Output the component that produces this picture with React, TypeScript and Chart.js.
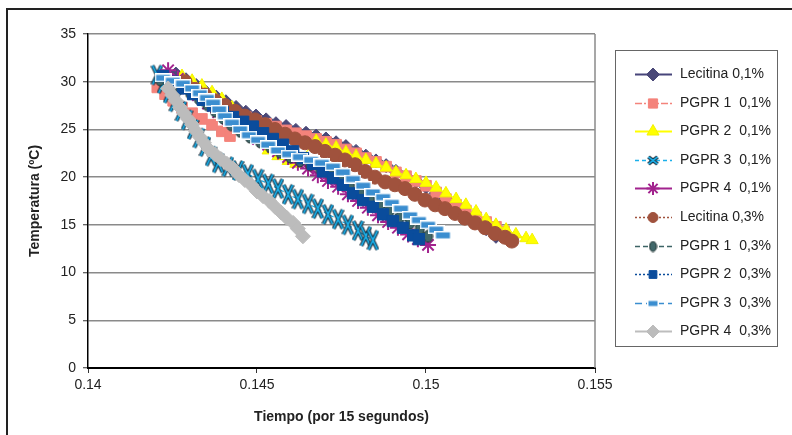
import React, { useEffect, useRef } from 'react';
import { Chart, registerables } from 'chart.js';
import { drawPoint } from 'chart.js/helpers';

Chart.register(...registerables);

type Pt = [number, number];

const seriesLabels = [
  'Lecitina 0,1%',
  'PGPR 1  0,1%',
  'PGPR 2  0,1%',
  'PGPR 3  0,1%',
  'PGPR 4  0,1%',
  'Lecitina 0,3%',
  'PGPR 1  0,3%',
  'PGPR 2  0,3%',
  'PGPR 3  0,3%',
  'PGPR 4  0,3%',
];

const xTicks = [0.14, 0.145, 0.15, 0.155];
const yTicks = [0, 5, 10, 15, 20, 25, 30, 35];
const xTitle = 'Tiempo (por 15 segundos)';
const yTitle = 'Temperatura (ºC)';

const lecitina01: Pt[] = [
  [0.1426, 30.8], [0.1429, 30.2], [0.1432, 29.6], [0.14349, 28.9], [0.14379, 28.4], [0.14408, 27.9],
  [0.14438, 27.3], [0.14467, 26.8], [0.14497, 26.4], [0.14527, 26.0], [0.14556, 25.6], [0.14586, 25.3],
  [0.14615, 24.9], [0.14645, 24.6], [0.14675, 24.3], [0.14704, 24.0], [0.14734, 23.6], [0.14763, 23.2],
  [0.14793, 22.7], [0.14822, 22.2], [0.14852, 21.7], [0.14882, 21.2], [0.14911, 20.6], [0.14941, 20.1],
  [0.1497, 19.6], [0.15, 19.0], [0.1503, 18.3], [0.15059, 17.7], [0.15089, 17.1], [0.15118, 16.1],
  [0.15148, 15.3], [0.15178, 14.6], [0.15207, 13.8],
];

const pgpr1_01: Pt[] = [
  [0.14205, 29.4], [0.14228, 28.7], [0.14252, 28.0], [0.14278, 27.3], [0.14308, 26.7], [0.14337, 26.1],
  [0.14367, 25.5], [0.14396, 24.8], [0.1442, 24.3],
  [0.14467, 26.3], [0.14497, 25.9], [0.14527, 25.6], [0.14556, 25.3], [0.14586, 24.9], [0.14615, 24.6],
  [0.14645, 24.3], [0.14675, 24.0], [0.14704, 23.7], [0.14734, 23.4], [0.14763, 22.9], [0.14793, 22.5],
  [0.14822, 22.0], [0.14852, 21.6], [0.14882, 21.1], [0.14911, 20.5], [0.14941, 20.1], [0.1497, 19.6],
  [0.15, 19.1], [0.1503, 18.4], [0.15059, 17.7], [0.15089, 17.1], [0.15118, 16.5], [0.15148, 15.8],
  [0.15178, 15.3], [0.15207, 14.8], [0.15231, 14.3],
];

const pgpr2_01: Pt[] = [
  [0.14278, 30.6], [0.14308, 30.1], [0.14337, 29.6], [0.14367, 28.9], [0.14396, 28.2], [0.14426, 27.3],
  [0.14456, 26.4], [0.14485, 25.3], [0.14515, 24.2], [0.14533, 22.8], [0.14562, 22.2], [0.14592, 21.7],
  [0.14615, 21.4],
  [0.14675, 23.8], [0.14704, 23.4], [0.14734, 23.1], [0.14763, 22.6], [0.14793, 22.2], [0.14822, 21.8],
  [0.14852, 21.4], [0.14882, 21.0], [0.14911, 20.5], [0.14941, 20.2], [0.1497, 19.8], [0.15, 19.4],
  [0.1503, 18.9], [0.15059, 18.3], [0.15089, 17.7], [0.15118, 17.1], [0.15148, 16.4], [0.15178, 15.6],
  [0.15207, 15.0], [0.15237, 14.5], [0.15266, 14.0], [0.15296, 13.6], [0.15314, 13.4],
];

const pgpr3_01: Pt[] = [
  [0.14204, 30.7], [0.14222, 29.8], [0.1424, 28.8], [0.14257, 27.9], [0.14275, 26.9], [0.14293, 26.0],
  [0.14311, 25.0], [0.14328, 24.1], [0.14346, 23.2], [0.14364, 22.2], [0.14385, 21.5], [0.14414, 21.1],
  [0.14444, 20.7], [0.14473, 20.3], [0.14503, 19.8], [0.14533, 19.3], [0.14562, 18.8], [0.14592, 18.2],
  [0.14621, 17.7], [0.14651, 17.2], [0.1468, 16.7], [0.1471, 16.1], [0.1474, 15.6], [0.14769, 15.0],
  [0.14799, 14.4], [0.14822, 13.8], [0.14843, 13.4],
];

const pgpr4_01: Pt[] = [
  [0.14237, 31.2], [0.14266, 30.3], [0.14296, 29.3], [0.14325, 28.6], [0.14355, 27.7], [0.14385, 26.8],
  [0.14414, 26.1], [0.14444, 25.4], [0.14473, 24.6], [0.14503, 24.0], [0.14533, 23.4], [0.14562, 22.7],
  [0.14592, 22.1], [0.14621, 21.5], [0.14651, 20.9], [0.1468, 20.2], [0.1471, 19.6], [0.1474, 19.0],
  [0.14769, 18.2], [0.14799, 17.5], [0.14828, 16.8], [0.14858, 16.0], [0.14888, 15.3], [0.14917, 14.7],
  [0.14947, 14.0], [0.14976, 13.5], [0.15006, 12.9],
];

const lecitina03: Pt[] = [
  [0.14287, 30.0], [0.14317, 29.2], [0.14346, 28.6], [0.14376, 28.0], [0.14405, 27.5], [0.14435, 26.9],
  [0.14464, 26.4], [0.14494, 26.0], [0.14524, 25.5], [0.14553, 25.0], [0.14583, 24.5], [0.14612, 24.0],
  [0.14642, 23.6], [0.14672, 23.2], [0.14701, 22.7], [0.14731, 22.3], [0.1476, 21.8], [0.1479, 21.3],
  [0.1482, 20.6], [0.14849, 20.0], [0.14879, 19.5], [0.14908, 19.2], [0.14938, 18.8], [0.14967, 18.2],
  [0.14997, 17.6], [0.15027, 17.1], [0.15056, 16.7], [0.15086, 16.2], [0.15115, 15.7], [0.15145, 15.2],
  [0.15175, 14.7], [0.15204, 14.1], [0.15234, 13.7], [0.15254, 13.3],
];

const pgpr1_03: Pt[] = [
  [0.14213, 30.2], [0.14243, 29.8], [0.14272, 29.3], [0.14302, 28.8], [0.14328, 28.2], [0.14352, 27.6],
  [0.14376, 26.9], [0.14399, 26.2], [0.14423, 25.5], [0.1445, 24.8], [0.14479, 24.2], [0.14509, 23.7],
  [0.14538, 23.2], [0.14568, 22.6], [0.14598, 22.1], [0.14627, 21.7], [0.14657, 21.3], [0.14686, 20.9],
  [0.14716, 20.3], [0.14746, 19.7], [0.14775, 19.1], [0.14805, 18.3], [0.14834, 17.7], [0.14864, 17.1],
  [0.14893, 16.5], [0.14923, 15.8], [0.14953, 15.2], [0.14982, 14.6], [0.15006, 13.8],
];

const pgpr2_03: Pt[] = [
  [0.14222, 30.6], [0.14251, 30.0], [0.14281, 29.3], [0.14311, 28.7], [0.1434, 28.1], [0.1437, 27.5],
  [0.14399, 26.8], [0.14429, 26.3], [0.14459, 25.8], [0.14488, 25.3], [0.14518, 24.6], [0.14547, 24.0],
  [0.14577, 23.4], [0.14607, 22.7], [0.14636, 22.0], [0.14666, 21.4], [0.14695, 20.6], [0.14725, 19.9],
  [0.14754, 19.2], [0.14784, 18.3], [0.14814, 17.6], [0.14843, 16.9], [0.14873, 16.1], [0.14902, 15.4],
  [0.14932, 14.7], [0.14962, 13.9], [0.14979, 13.5],
];

const pgpr3_03: Pt[] = [
  [0.14222, 30.4], [0.14251, 30.1], [0.14281, 29.8], [0.14308, 29.3], [0.14331, 28.8], [0.14352, 28.3],
  [0.1437, 27.8], [0.14388, 27.1], [0.14405, 26.4], [0.14426, 25.7], [0.1445, 25.0], [0.14476, 24.4],
  [0.14503, 23.9], [0.14533, 23.4], [0.14562, 22.8], [0.14595, 22.4], [0.14627, 22.1], [0.1466, 21.8],
  [0.14692, 21.5], [0.14725, 21.1], [0.14754, 20.5], [0.14784, 19.8], [0.14814, 19.1], [0.14843, 18.4],
  [0.14873, 17.9], [0.14899, 17.3], [0.14926, 16.7], [0.14953, 16.0], [0.14979, 15.5], [0.15006, 15.0],
  [0.1503, 14.5], [0.1505, 13.9],
];

const pgpr4_03: Pt[] = [
  [0.14237, 29.3], [0.14249, 28.6], [0.1426, 28.0], [0.14272, 27.3], [0.14284, 26.7], [0.14296, 26.1],
  [0.14308, 25.5], [0.1432, 24.8], [0.14331, 24.2], [0.14343, 23.6], [0.14358, 22.9], [0.14376, 22.4],
  [0.14393, 21.9], [0.14411, 21.4], [0.14429, 20.9], [0.14447, 20.2], [0.14464, 19.7], [0.14482, 19.2],
  [0.145, 18.5], [0.14518, 18.0], [0.14536, 17.5], [0.14553, 16.9], [0.14571, 16.3], [0.14589, 15.7],
  [0.14607, 15.2], [0.14621, 14.6], [0.14636, 13.8],
];

const seriesData: Pt[][] = [
  lecitina01, pgpr1_01, pgpr2_01, pgpr3_01, pgpr4_01,
  lecitina03, pgpr1_03, pgpr2_03, pgpr3_03, pgpr4_03,
];

function mk(w: number, h: number, f: (c: CanvasRenderingContext2D) => void) {
  const cv = document.createElement('canvas');
  cv.width = w;
  cv.height = h;
  const c = cv.getContext('2d') as CanvasRenderingContext2D;
  f(c);
  return cv;
}

function xShape(w: number, h: number, outer: number, inner: number) {
  return mk(w, h, (c) => {
    const seg = () => {
      c.beginPath();
      c.moveTo(2, 2);
      c.lineTo(w - 2, h - 2);
      c.moveTo(w - 2, 2);
      c.lineTo(2, h - 2);
      c.stroke();
    };
    c.lineCap = 'butt';
    c.strokeStyle = '#14222f';
    c.lineWidth = outer;
    seg();
    c.strokeStyle = '#1bb0ea';
    c.lineWidth = inner;
    seg();
  });
}

function rectShape(w: number, h: number) {
  return mk(w, h, (c) => {
    c.fillStyle = '#ffffff';
    c.fillRect(0, 0, w, h);
    c.fillStyle = '#3b8ed0';
    c.fillRect(1.5, 1.5, w - 3, h - 3);
  });
}

function ovalShape(w: number, h: number) {
  return mk(w, h, (c) => {
    c.beginPath();
    c.ellipse(w / 2, h / 2, w / 2 - 1, h / 2 - 1, 0, 0, Math.PI * 2);
    c.fillStyle = '#41686a';
    c.fill();
    c.strokeStyle = '#1b2e2e';
    c.lineWidth = 1;
    c.stroke();
  });
}

export default function App() {
  const ref = useRef<HTMLCanvasElement>(null);

  useEffect(() => {
    if (!ref.current) return;
    Chart.defaults.font.family = '"Liberation Sans", Arial, Helvetica, sans-serif';

    const xMark = xShape(13, 23, 4, 1.9);
    const xMarkL = xShape(13, 11, 3.6, 1.7);
    const rectMark = rectShape(17, 9);
    const rectMarkL = rectShape(12, 8);
    const ovalMark = ovalShape(11, 14);
    const ovalMarkL = ovalShape(9, 12);

    const styles: any[] = [
      { color: '#47457a', dash: [], ps: 'rectRot', r: 7, fill: '#4a4878', border: '#4a4878', bw: 1, lps: 'rectRot', lr: 6.5, lw: 2 },
      { color: '#f4837b', dash: [7, 2, 2, 2], ps: 'rect', r: 7.5, fill: '#f4837b', border: '#f4837b', bw: 1, lps: 'rect', lr: 6.5, lw: 1.5 },
      { color: '#ffff00', dash: [], ps: 'triangle', r: 7, fill: '#ffff00', border: '#f2f200', bw: 1, lps: 'triangle', lr: 7, lw: 2 },
      { color: '#1bb0ea', dash: [4, 3], ps: xMark, r: 7, fill: '#1bb0ea', border: '#1bb0ea', bw: 1, lps: xMarkL, lr: 6, lw: 1.5 },
      { color: '#a2238e', dash: [], ps: 'star', r: 8, fill: '#a2238e', border: '#a2238e', bw: 2, lps: 'star', lr: 6.5, lw: 2 },
      { color: '#a0523d', dash: [2, 2], ps: 'circle', r: 7, fill: '#a0523d', border: '#a0523d', bw: 1, lps: 'circle', lr: 5, lw: 1.5 },
      { color: '#3d6466', dash: [5, 3], ps: ovalMark, r: 6, fill: '#3d6466', border: '#3d6466', bw: 1, lps: ovalMarkL, lr: 5, lw: 1.5 },
      { color: '#0a4c9c', dash: [2, 2], ps: 'rect', r: 8, fill: '#0a4c9c', border: '#0a4c9c', bw: 1, lps: 'rect', lr: 5.5, lw: 1.5 },
      { color: '#3b8ed0', dash: [7, 4], ps: rectMark, r: 7, fill: '#3b8ed0', border: '#3b8ed0', bw: 1, lps: rectMarkL, lr: 5, lw: 1.5 },
      { color: '#bdbdbd', dash: [], ps: 'rectRot', r: 7.5, fill: '#bcbcbc', border: '#bcbcbc', bw: 1, lps: 'rectRot', lr: 6.5, lw: 2 },
    ];

    const datasets = seriesData.map((pts, i) => {
      const st = styles[i];
      return {
        label: seriesLabels[i],
        data: pts.map(([x, y]) => ({ x, y })),
        showLine: true,
        borderColor: st.color,
        borderWidth: 1.2,
        borderDash: st.dash,
        pointStyle: st.ps,
        pointRadius: st.r,
        pointHoverRadius: st.r,
        pointBackgroundColor: st.fill,
        pointBorderColor: st.border,
        pointBorderWidth: st.bw,
        order: 9 - i,
      };
    });

    const framePlugin = {
      id: 'framePlugin',
      beforeDatasetsDraw(chart: any) {
        const { ctx, chartArea } = chart;
        ctx.save();
        ctx.strokeStyle = '#8a8a8a';
        ctx.lineWidth = 1.5;
        ctx.beginPath();
        ctx.moveTo(chartArea.right, chartArea.top);
        ctx.lineTo(chartArea.right, chartArea.bottom);
        ctx.stroke();
        ctx.restore();
      },
      afterDraw(chart: any) {
        const ctx = chart.ctx as CanvasRenderingContext2D;
        ctx.save();
        ctx.fillStyle = '#ffffff';
        ctx.fillRect(615.5, 50.5, 162, 296);
        ctx.strokeStyle = '#666666';
        ctx.lineWidth = 1;
        ctx.strokeRect(615.5, 50.5, 162, 296);
        seriesLabels.forEach((label, i) => {
          const st = styles[i];
          const y = Math.round(74 + i * 28.6) + 0.5;
          ctx.setLineDash(st.dash);
          ctx.strokeStyle = st.color;
          ctx.lineWidth = st.lw;
          ctx.beginPath();
          ctx.moveTo(635, y);
          ctx.lineTo(672, y);
          ctx.stroke();
          ctx.setLineDash([]);
          ctx.fillStyle = st.fill;
          ctx.strokeStyle = st.border;
          ctx.lineWidth = st.bw;
          drawPoint(ctx, { pointStyle: st.lps, radius: st.lr, rotation: 0, borderWidth: st.bw } as any, 653, y);
          ctx.fillStyle = '#222222';
          ctx.font = '14px "Liberation Sans", Arial, sans-serif';
          ctx.textBaseline = 'middle';
          ctx.textAlign = 'left';
          ctx.fillText(label, 680, y);
        });
        ctx.restore();
      },
    };

    const chart = new Chart(ref.current, {
      type: 'scatter',
      data: { datasets: datasets as any },
      options: {
        responsive: false,
        animation: false,
        events: [],
        layout: { padding: { left: 25, right: 197, top: 34, bottom: 0 } },
        plugins: { legend: { display: false }, tooltip: { enabled: false } },
        scales: {
          x: {
            type: 'linear',
            min: 0.14,
            max: 0.155,
            afterBuildTicks: (s: any) => {
              s.ticks = xTicks.map((v) => ({ value: v }));
            },
            afterFit: (s: any) => {
              s.height = 67;
            },
            ticks: {
              color: '#222',
              font: { size: 14 },
              padding: 4,
              maxRotation: 0,
              autoSkip: false,
              callback: (v: any) => String(Number(Number(v).toFixed(3))),
            },
            grid: { drawOnChartArea: false, drawTicks: true, tickLength: 5, tickColor: '#333', tickWidth: 1 },
            border: { display: true, color: '#000', width: 2 },
            title: { display: true, text: xTitle, font: { size: 14, weight: 'bold' }, color: '#222', padding: { top: 4, bottom: 9 } },
          },
          y: {
            type: 'linear',
            min: 0,
            max: 35,
            afterBuildTicks: (s: any) => {
              s.ticks = yTicks.map((v) => ({ value: v }));
            },
            afterFit: (s: any) => {
              s.width = 63;
            },
            ticks: { color: '#222', font: { size: 14 }, padding: 7 },
            grid: {
              color: (c: any) => (c.tick && c.tick.value === 0 ? '#000' : '#8a8a8a'),
              lineWidth: 1.5,
              tickLength: 5,
              tickColor: '#333',
              tickWidth: 1,
            },
            border: { display: true, color: '#000', width: 1.5 },
            title: { display: true, text: yTitle, font: { size: 14, weight: 'bold' }, color: '#222', padding: { top: 2, bottom: 0 } },
          },
        },
      } as any,
      plugins: [framePlugin],
    });

    return () => chart.destroy();
  }, []);

  return (
    <div style={{ position: 'absolute', left: 0, top: 0, width: 792, height: 435, overflow: 'hidden', background: '#fff' }}>
      <div
        style={{
          position: 'absolute',
          left: 6,
          top: 8,
          width: 830,
          height: 470,
          border: '2px solid #222',
          boxSizing: 'border-box',
        }}
      />
      <canvas ref={ref} width={792} height={435} style={{ position: 'absolute', left: 0, top: 0, width: 792, height: 435 }} />
    </div>
  );
}
